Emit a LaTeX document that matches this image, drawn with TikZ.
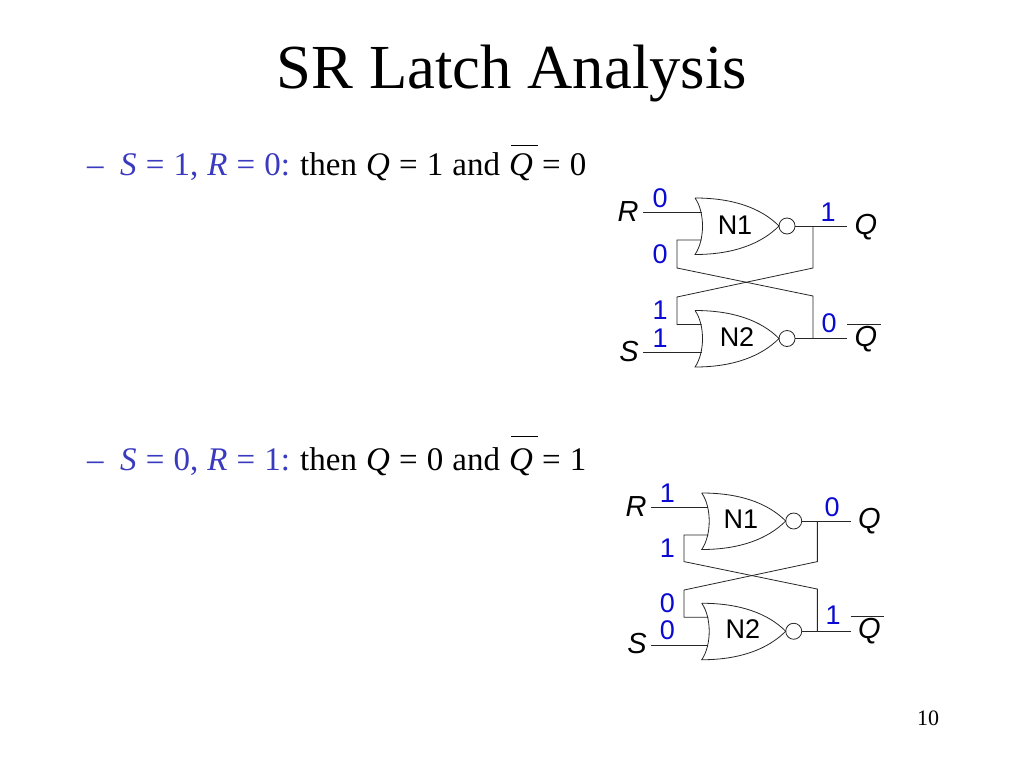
\documentclass[tikz,border=0pt]{standalone}
\usepackage{fontspec}
\setmainfont{Liberation Serif}
\newfontfamily\gatefont{Liberation Sans}
\usetikzlibrary{calc}
\definecolor{slideblue}{RGB}{58,58,190}
\definecolor{wireblue}{RGB}{10,10,210}
\tikzset{
	wire/.style={line width=0.8pt, color=black!85},
	slidetext/.style={anchor=base west, inner sep=0pt, font=\fontsize{33}{33}\selectfont},
	gatename/.style={inner sep=0pt, font=\gatefont\fontsize{27}{27}\selectfont},
	portname/.style={inner sep=0pt, font=\gatefont\itshape\fontsize{29}{29}\selectfont},
	wireval/.style={inner sep=0pt, color=wireblue, font=\gatefont\fontsize{27}{27}\selectfont},
	norgate/.pic={
		\draw[wire] (0,0) .. controls (38,0) and (66,10) .. (84,28)
			.. controls (66,46) and (38,56.5) .. (0,56.5)
			.. controls (10,42) and (10,14) .. (0,0);
		\draw[wire] (92,28) circle (8);
		\coordinate (-a) at (6.7,14);
		\coordinate (-b) at (6.7,42);
		\coordinate (-o) at (100,28);
	}
}
\newcommand{\qbar}[1]{\makebox[0pt][l]{\hspace{0.06em}\rule[#1]{0.8em}{0.03em}}\textit{Q}}
\newcommand{\widespace}{\setlength{\spaceskip}{0.276em}}
% one line of the slide: y, S, R, Q, Qbar, height of the bar
\newcommand{\caseline}[7]{
	\node[slidetext, color=slideblue] (dash#1) at (87,#2) {--};
	\node[slidetext, color=slideblue] (cond#1) at (120,#2) {\widespace\textit{S} = #3, \textit{R} = #4:};
	\node[slidetext] (res#1) at (300,#2) {\widespace then \textit{Q} = #5 and \qbar{#7} = #6};
}
% latch: name, x, y, scale, then the wire values
\newcommand{\srlatch}[9]{
	\begin{scope}[shift={(#2,#3)}, scale=#4, name prefix=#1-]
		\pic (N1) at (0,0) {norgate};
		\pic (N2) at (0,112.5) {norgate};
		\node[gatename] (n1) at (40,27) {N1};
		\node[gatename] (n2) at (42,139) {N2};
		
		\coordinate (inx) at (-52,0);
		\coordinate (outx) at (152,0);
		\coordinate (fl) at (-18,70);
		\coordinate (fr) at (118,98);
		\coordinate (gl) at (-18,99);
		\coordinate (gr) at (118,70);
		
		\draw[wire] (inx |- N1-a) -- (N1-a);
		\draw[wire] (inx |- N2-b) -- (N2-b);
		\draw[wire] (N1-o) -- (outx |- N1-o);
		\draw[wire] (N2-o) -- (outx |- N2-o);
		\draw[wire] (N1-b) -| (fl) -- (fr) -- (fr |- N2-o);
		\draw[wire] (gr |- N1-o) -- (gr) -- (gl) |- (N2-a);
		
		\node[portname] (r) at (-67,14) {R};
		\node[portname] (s) at (-66,154) {S};
		\node[portname] (q) at (171,29) {Q};
		\node[portname] (qn) at (171,141) {Q};
		\coordinate (ba) at (152,126);
		\coordinate (bb) at (186,126);
		\draw[wire] (ba) -- (bb);
		
		\node[wireval] (vr) at (-35,0) {#5};
		\node[wireval] (vq) at (133,14) {#6};
		\node[wireval] (vb) at (-35,56) {#7};
		\node[wireval] (vc) at (-35,112) {#8};
		\node[wireval] (vs) at (-35,140) {#9};
		\latchrest
	\end{scope}
}
\begin{document}
\begin{tikzpicture}[x=1pt, y=-1pt]
	\useasboundingbox (0,0) rectangle (1024,768);
	
	\node[inner sep=0pt, anchor=base, font=\fontsize{62.7}{63}\selectfont] (title) at (512,88) {SR Latch Analysis};
	
	\caseline{a}{175}{1}{0}{1}{0}{0.87em}
	\caseline{b}{470}{0}{1}{0}{1}{1.0em}
	
	\def\latchrest{\node[wireval] (vn) at (134,125) {0};}
	\srlatch{top}{695}{198}{1}{0}{1}{0}{1}{1}
	\def\latchrest{\node[wireval] (vn) at (134,125) {1};}
	\srlatch{bot}{701.7}{493}{0.98}{1}{0}{1}{0}{0}
	
	\node[inner sep=0pt, font=\fontsize{22}{22}\selectfont] (page) at (928,718) {10};
\end{tikzpicture}
\end{document}
